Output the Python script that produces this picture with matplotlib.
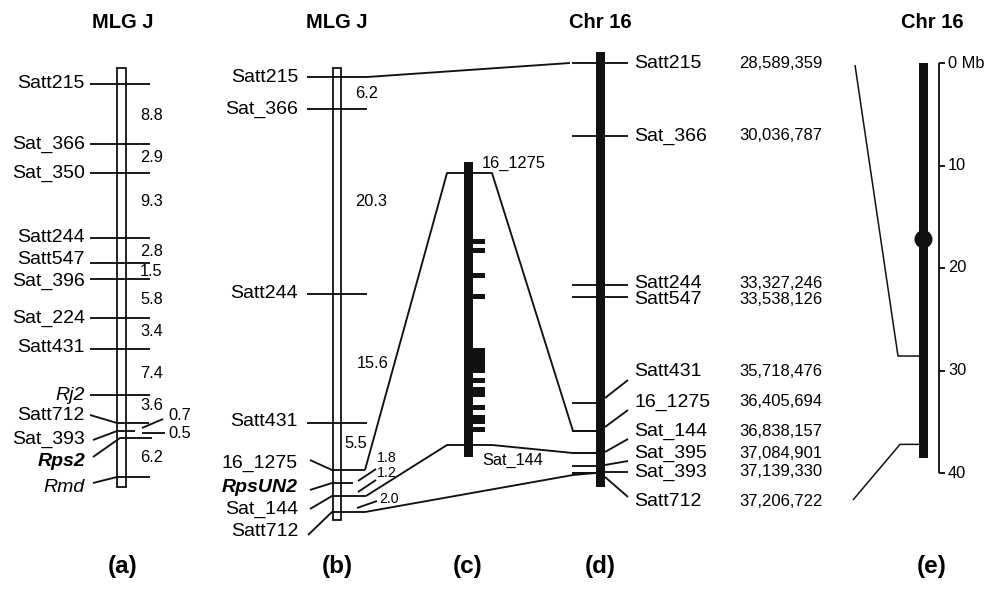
import matplotlib
matplotlib.use("Agg")
import matplotlib.pyplot as plt
from matplotlib.patches import Rectangle, Circle

plt.rcParams['font.family'] = ['Liberation Sans', 'DejaVu Sans']

# ---------------- data ----------------
titles = ["MLG J", "MLG J", "Chr 16", "Chr 16"]
panel_tags = ["(a)", "(b)", "(c)", "(d)", "(e)"]

# Panel (a): MLG J linkage map (display positions along the map)
a_markers = ["Satt215", "Sat_366", "Sat_350", "Satt244", "Satt547", "Sat_396",
             "Sat_224", "Satt431", "Rj2", "Satt712", "Sat_393", "Rps2", "Rmd"]
a_pos = [84, 144, 173, 238, 263, 279, 318, 349, 395, 423, 431, 438, 477]
a_label_pos = [84, 144, 173, 237, 260, 281, 318, 347, 395, 415, 439, 462, 487]
a_style = ["n", "n", "n", "n", "n", "n", "n", "n", "i", "n", "n", "bi", "i"]
a_dist = ["8.8", "2.9", "9.3", "2.8", "1.5", "5.8", "3.4", "7.4", "3.6", "0.7", "0.5", "6.2"]
a_dist_pos = [115, 157, 202, 252, 272, 300, 332, 373, 405, 415, 434, 457]

# Panel (b): MLG J high-resolution map
b_markers = ["Satt215", "Sat_366", "Satt244", "Satt431", "16_1275", "RpsUN2", "Sat_144", "Satt712"]
b_pos = [77, 109, 294, 423, 470, 483, 496, 512]
b_label_pos = [77, 109, 294, 422, 463, 487, 509, 532]
b_style = ["n", "n", "n", "n", "n", "bi", "n", "n"]
b_dist = ["6.2", "20.3", "15.6", "5.5", "1.8", "1.2", "2.0"]
b_dist_pos = [93, 202, 363, 444, 458, 473, 499]

# Panel (c): physical interval 16_1275 - Sat_144, gene blocks
c_ends = ["16_1275", "Sat_144"]
c_end_pos = [173, 445]
c_blocks_start = [239, 248, 273, 294, 348, 378, 387, 405, 415, 427]
c_blocks_end = [244, 253, 278, 299, 373, 383, 397, 410, 424, 432]

# Panel (d): Chr 16 physical positions (bp)
d_markers = ["Satt215", "Sat_366", "Satt244", "Satt547", "Satt431", "16_1275",
             "Sat_144", "Sat_395", "Sat_393", "Satt712"]
d_bp = ["28,589,359", "30,036,787", "33,327,246", "33,538,126", "35,718,476",
        "36,405,694", "36,838,157", "37,084,901", "37,139,330", "37,206,722"]
d_pos = [63, 136, 285, 297, 398, 427, 452, 465, 472, 477]
d_left_pos = [63, 136, 285, 297, 403, 431, 453, 466, 473, 473]
d_label_pos = [63, 136, 283, 299, 372, 402, 431, 453, 472, 501]

# Panel (e): whole Chr 16 in Mb
e_length_mb = 38.5
e_centromere_mb = 17.2
e_ticks_mb = [0, 10, 20, 30, 40]
e_tick_labels = ["0 Mb", "10", "20", "30", "40"]
e_region_mb = [28.589359, 37.206722]

# ---------------- drawing ----------------
fig = plt.figure(figsize=(9.87, 5.90), dpi=100)
ax = fig.add_axes([0, 0, 1, 1])
ax.set_xlim(0, 987)
ax.set_ylim(590, 0)
ax.axis("off")

LW = 1.35
K = "#111111"
FS_LAB = 14
FS_DIST = 11.8
FS_SMALL = 10.2


def line(xs, ys, lw=LW):
    ax.plot(xs, ys, color=K, lw=lw, solid_capstyle="butt")


def style_kw(s):
    if s == "i":
        return dict(style="italic")
    if s == "bi":
        return dict(style="italic", weight="bold")
    return {}


# titles and tags
for x, t in zip([123, 337, 600, 932], titles):
    ax.text(x, 22, t, ha="center", va="center", fontsize=14.5, weight="bold")
for x, t in zip([123, 337, 468, 600, 932], panel_tags):
    ax.text(x, 566, t, ha="center", va="center", fontsize=17.5, weight="bold")

# ---- panel (a)
ax.add_patch(Rectangle((117, 68), 9, 487 - 68, facecolor="white", edgecolor=K, lw=1.3, zorder=1))
leader_a = {"Satt712": ((90, 415), 149), "Sat_393": ((93, 440), 135),
            "Rps2": ((93, 457), 152), "Rmd": ((93, 483), 150)}
for m, y, ly, s in zip(a_markers, a_pos, a_label_pos, a_style):
    if m in leader_a:
        (lx0, ly0), xr = leader_a[m]
        x0 = 120 if m == "Rps2" else 117
        line([lx0, x0, xr], [ly0, y, y])
    else:
        line([90, 150], [y, y])
    ax.text(85, ly, m, ha="right", va="center", fontsize=FS_LAB, **style_kw(s))
for d, y in zip(a_dist, a_dist_pos):
    if d == "0.7":
        line([142, 163], [428, 419])
        ax.text(168, y, d, ha="left", va="center", fontsize=FS_DIST)
    elif d == "0.5":
        line([142, 165], [433, 433])
        ax.text(168, y, d, ha="left", va="center", fontsize=FS_DIST)
    else:
        ax.text(140, y, d, ha="left", va="center", fontsize=FS_DIST)

# ---- panel (b)
ax.add_patch(Rectangle((333, 68), 8, 520 - 68, facecolor="white", edgecolor=K, lw=1.3, zorder=1))
leader_b = {"16_1275": ((310, 460), 365), "RpsUN2": ((310, 490), 353),
            "Sat_144": ((310, 509), 366), "Satt712": ((308, 535), 365)}
for m, y, ly, s in zip(b_markers, b_pos, b_label_pos, b_style):
    if m in leader_b:
        (lx0, ly0), xr = leader_b[m]
        line([lx0, 332, xr], [ly0, y, y])
    else:
        line([307, 367], [y, y])
    ax.text(298, ly, m, ha="right", va="center", fontsize=FS_LAB, **style_kw(s))
for d, y in zip(b_dist, b_dist_pos):
    if d in ("6.2", "20.3"):
        ax.text(355, y, d, ha="left", va="center", fontsize=FS_DIST)
    elif d == "15.6":
        ax.text(357, y, d, ha="left", va="center", fontsize=FS_DIST)
    elif d == "5.5":
        ax.text(344, y, d, ha="left", va="center", fontsize=FS_DIST)
    elif d == "1.8":
        line([358, 376], [481, 469])
        ax.text(377, y, d, ha="left", va="center", fontsize=FS_SMALL)
    elif d == "1.2":
        line([358, 376], [492, 480])
        ax.text(377, y, d, ha="left", va="center", fontsize=FS_SMALL)
    else:
        line([357, 377], [508, 501])
        ax.text(379, y, d, ha="left", va="center", fontsize=FS_SMALL)

# connections (b) -> (d) and (b) -> (c)
line([367, 570], [b_pos[0], d_left_pos[0]])
line([365, 447, 492, 573, 596], [b_pos[4], c_end_pos[0], c_end_pos[0], d_left_pos[5], d_left_pos[5]])
line([366, 447, 492, 573, 596], [b_pos[6], c_end_pos[1], c_end_pos[1], d_left_pos[6], d_left_pos[6]])
line([365, 573, 596], [b_pos[7], d_left_pos[9] + 2, d_left_pos[9]])

# ---- panel (c)
ax.add_patch(Rectangle((464, 162), 9, 457 - 162, facecolor=K, edgecolor="none", zorder=3))
for y0, y1 in zip(c_blocks_start, c_blocks_end):
    ax.add_patch(Rectangle((472, y0), 13, y1 - y0, facecolor=K, edgecolor="none", zorder=3))
ax.text(482, 163, c_ends[0], ha="left", va="center", fontsize=11.8)
ax.text(482, 460, c_ends[1], ha="left", va="center", fontsize=11.8)

# ---- panel (d)
ax.add_patch(Rectangle((596, 52), 9, 487 - 52, facecolor=K, edgecolor="none", zorder=3))
for m, y, yl, ly, bp in zip(d_markers, d_pos, d_left_pos, d_label_pos, d_bp):
    line([572, 596], [yl, yl])
    if abs(y - ly) < 3:
        line([605, 628], [y, y])
    else:
        line([605, 628], [y, ly + (8 if ly < y else -4)])
    ax.text(634, ly, m, ha="left", va="center", fontsize=FS_LAB)
    ax.text(739, ly, bp, ha="left", va="center", fontsize=12)

# ---- panel (e)
Y0, S = 63, 10.25
ax.add_patch(Rectangle((919, Y0), 9, e_length_mb * S, facecolor=K, edgecolor="none", zorder=3))
ax.add_patch(Circle((923.5, Y0 + e_centromere_mb * S), 9, facecolor=K, edgecolor="none", zorder=3))
line([939, 939], [Y0 + e_ticks_mb[0] * S, Y0 + e_ticks_mb[-1] * S])
for t, lab in zip(e_ticks_mb, e_tick_labels):
    yy = Y0 + t * S
    line([939, 945], [yy, yy])
    ax.text(948, yy, lab, ha="left", va="center", fontsize=11.8)
ya, yb = Y0 + e_region_mb[0] * S, Y0 + e_region_mb[1] * S
line([855, 898, 919], [65, ya, ya], lw=1.1)
line([853, 900, 919], [500, yb, yb], lw=1.1)

fig.savefig("out.png", dpi=100)
